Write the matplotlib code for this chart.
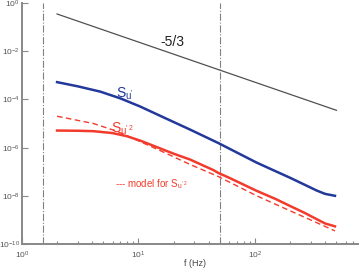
import matplotlib
matplotlib.use('Agg')
import matplotlib.pyplot as plt
import numpy as np
from matplotlib.ticker import FixedLocator, NullFormatter, LogFormatterMathtext

plt.rcParams['font.family'] = ['Liberation Sans', 'DejaVu Sans']
plt.rcParams['mathtext.default'] = 'regular'

# ---- data ----
f_blue = [2.0, 3.0, 4.7, 7.0, 10.3, 17.0, 27.7, 48.4, 103, 150, 200, 270, 339, 400, 486]
S_blue = [5.2e-4, 3.5e-4, 2.1e-4, 1.1e-4, 5.1e-5, 1.66e-5, 5.6e-6, 1.55e-6, 2.4e-7,
          1.05e-7, 5.6e-8, 2.8e-8, 1.65e-8, 1.2e-8, 1.0e-8]

f_red = [2.0, 3.0, 4.1, 6.0, 7.9, 10.5, 15.3, 20.0, 27.7, 38.0, 43.9, 48.4, 60.0,
         103.5, 150, 199.5, 270, 339, 400, 486]
S_red = [5.1e-6, 5.0e-6, 4.8e-6, 4.0e-6, 3.0e-6, 1.9e-6, 9.3e-7, 5.6e-7, 3.2e-7,
         1.6e-7, 1.17e-7, 8.9e-8, 5.6e-8, 1.6e-8, 7.4e-9, 3.8e-9, 1.9e-9, 1.07e-9,
         7.1e-10, 5.4e-10]

f_model = [2.0, 4.1, 6.5, 10.0, 15.0, 27.7, 48.4, 103.5, 199.5, 300, 486]
S_model = [2.0e-5, 1.0e-5, 4.8e-6, 1.9e-6, 7.9e-7, 2.0e-7, 6.3e-8, 1.0e-8, 2.4e-9,
           1.0e-9, 3.5e-10]

f_ref = [2.0, 500.0]
S_ref = [0.35, 0.35 * (500.0 / 2.0) ** (-5.0 / 3.0)]

f_vlines = [1.5, 50.0]

blue = '#22389a'
red = '#f23b2c'
gray = '#888888'

fig = plt.figure(figsize=(3.6, 2.68), dpi=100)
ax = fig.add_axes([22 / 360, 24 / 268, 335.6 / 360, 241 / 268])
ax.set_xscale('log')
ax.set_yscale('log')
ax.set_xlim(1, 760)
ax.set_ylim(1e-10, 1)

for fv in f_vlines:
    ax.axvline(fv, color='#808080', lw=0.8, ls='-.')

ax.plot(f_ref, S_ref, color='#505050', lw=0.9)
ax.plot(f_blue, S_blue, color=blue, lw=1.8)
ax.plot(f_model, S_model, color=red, lw=1.0, ls=(0, (4, 2.5)))
ax.plot(f_red, S_red, color=red, lw=1.8)

ax.text(19.4, 0.0245, '-5/3', fontsize=10, color='#222222', ha='center', va='center')
ax.text(7.7, 1.7e-4, "S$_{u'}$", fontsize=10, color=blue, ha='center', va='center')
ax.text(7.3, 6.0e-6, "S$_{u'^{\\,2}}$", fontsize=10, color=red, ha='center', va='center')
ax.text(6.3, 3.0e-8, "--- model for S$_{u'^{\\,2}}$", fontsize=7, color=red, ha='left', va='center')

for s in ['top', 'right']:
    ax.spines[s].set_visible(False)
for s in ['left', 'bottom']:
    ax.spines[s].set_color(gray)
    ax.spines[s].set_linewidth(1.4)

ax.yaxis.set_major_locator(FixedLocator([1e-10, 1e-8, 1e-6, 1e-4, 1e-2, 1]))
ax.yaxis.set_minor_locator(FixedLocator([]))
ax.yaxis.set_major_formatter(LogFormatterMathtext())
ax.xaxis.set_major_locator(FixedLocator([1, 10, 100]))
ax.xaxis.set_major_formatter(LogFormatterMathtext())
minors = [m * 10 ** d for d in range(0, 3) for m in range(2, 10) if m * 10 ** d <= 760]
ax.xaxis.set_minor_locator(FixedLocator(minors))
ax.xaxis.set_minor_formatter(NullFormatter())

ax.tick_params(which='major', direction='in', length=4, width=0.8, color=gray,
               labelsize=6, labelcolor='#555555')
ax.tick_params(axis='y', which='major', pad=1.5)
ax.tick_params(axis='x', which='major', pad=4)
ax.tick_params(which='minor', direction='in', length=2.5, width=0.8, color=gray)

fig.text(195 / 360, 1 - 263 / 268, 'f (Hz)', ha='center', va='center', fontsize=6.5, color='#444444')

fig.savefig('out.png', dpi=100)
